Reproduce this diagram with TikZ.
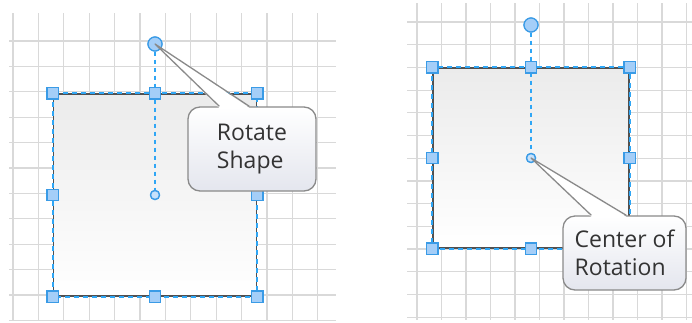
\documentclass[tikz,border=0pt]{standalone}
\usepackage{fontspec}
\setmainfont{Open Sans}
\usetikzlibrary{calc}
\definecolor{gridc}{HTML}{D9D9D9}
\definecolor{hfill}{HTML}{A4CEF8}
\definecolor{hline}{HTML}{3A9BE6}
\definecolor{dashc}{HTML}{2FA6F5}
\definecolor{edgec}{HTML}{505050}
\definecolor{calloutedge}{HTML}{8A8A8A}
\definecolor{calloutbot}{HTML}{E4E6EE}
\definecolor{txt}{HTML}{333333}
\definecolor{boxtop}{HTML}{EBEBEB}
\begin{document}
\begin{tikzpicture}[x=1pt,y=-1pt,
 gridline/.style={draw=gridc,line width=1.2pt},
 shapebox/.style={rectangle,draw=edgec,line width=1.5pt,top color=boxtop,bottom color=white,inner sep=0pt},
 selborder/.style={draw=dashc,line width=1.7pt,dash pattern=on 5pt off 4pt},
 rotline/.style={draw=dashc,line width=2pt,dash pattern=on 4pt off 4pt},
 grip/.style={rectangle,minimum size=11.5pt,inner sep=0pt,fill=hfill,draw=hline,line width=1.1pt},
 rothandle/.style={circle,minimum size=14pt,inner sep=0pt,fill=hfill,draw=hline,line width=1.2pt},
 pinhandle/.style={circle,minimum size=9pt,inner sep=0pt,fill=hfill!60,draw=hline,line width=1.3pt},
 callout/.style={rectangle,rounded corners=12pt,draw=calloutedge,line width=1.3pt,top color=white,bottom color=calloutbot,inner sep=0pt,align=left,text=txt,font=\fontsize{23}{28}\selectfont},
 pointerfill/.style={fill=white},
 pointeredge/.style={draw=calloutedge,line width=1.3pt,line join=round}
]
\useasboundingbox (0,0) rectangle (692,322);
\fill[white] (0,0) rectangle (692,322);
% grids
\foreach \k in {0,...,12} \draw[gridline] ({13+25.4*\k},13) -- ({13+25.4*\k},320);
\foreach \k in {0,...,11} \draw[gridline] (9,{41+25.4*\k}) -- (336,{41+25.4*\k});
\foreach \k in {0,...,11} \draw[gridline] ({417+24.5*\k},3) -- ({417+24.5*\k},320);
\foreach \k in {0,...,13} \draw[gridline] (407,{22+22.7*\k}) -- (692,{22+22.7*\k});

% ---- left shape
\node[shapebox,minimum width=203pt,minimum height=202pt] (b1) at (155,195) {};
\draw[selborder] (b1.north west) rectangle (b1.south east);
\node[rothandle] (r1) at (155,44) {};
\node[pinhandle] (p1) at (b1.center) {};
\draw[rotline] (r1) -- (p1);
\foreach \a/\n in {north west/nw,north/n,north east/ne,west/w,east/e,south west/sw,south/s,south east/se}
  \node[grip] (g1\n) at (b1.\a) {};
\node[rothandle] at (r1) {};
\node[pinhandle] at (p1) {};
\node[callout,minimum width=128pt,minimum height=84pt] (c1) at (252,149) {Rotate\\Shape};
\coordinate (c1a) at ($(c1.north west)+(32,0)$);
\coordinate (c1b) at ($(c1.north west)+(62,0)$);
\fill[pointerfill] ($(c1a)+(0,1.5)$) -- (r1.center) -- ($(c1b)+(0,1.5)$) -- cycle;
\draw[pointeredge] (c1a) -- (r1.center) -- (c1b);

% ---- right shape
\node[shapebox,minimum width=196pt,minimum height=180pt] (b2) at (531,158) {};
\draw[selborder] (b2.north west) rectangle (b2.south east);
\node[rothandle] (r2) at (531,25) {};
\node[pinhandle] (p2) at (b2.center) {};
\draw[rotline] (r2) -- (p2);
\foreach \a/\n in {north west/nw,north/n,north east/ne,west/w,east/e,south west/sw,south/s,south east/se}
  \node[grip] (g2\n) at (b2.\a) {};
\node[rothandle] at (r2) {};
\node[pinhandle] at (p2) {};
\node[callout,minimum width=123pt,minimum height=74pt] (c2) at (624.5,253) {Center of\\Rotation};
\coordinate (c2a) at ($(c2.north west)+(29,0)$);
\coordinate (c2b) at ($(c2.north west)+(64,0)$);
\fill[pointerfill] ($(c2a)+(0,1.5)$) -- (p2.center) -- ($(c2b)+(0,1.5)$) -- cycle;
\draw[pointeredge] (c2a) -- (p2.center) -- (c2b);
\end{tikzpicture}
\end{document}
